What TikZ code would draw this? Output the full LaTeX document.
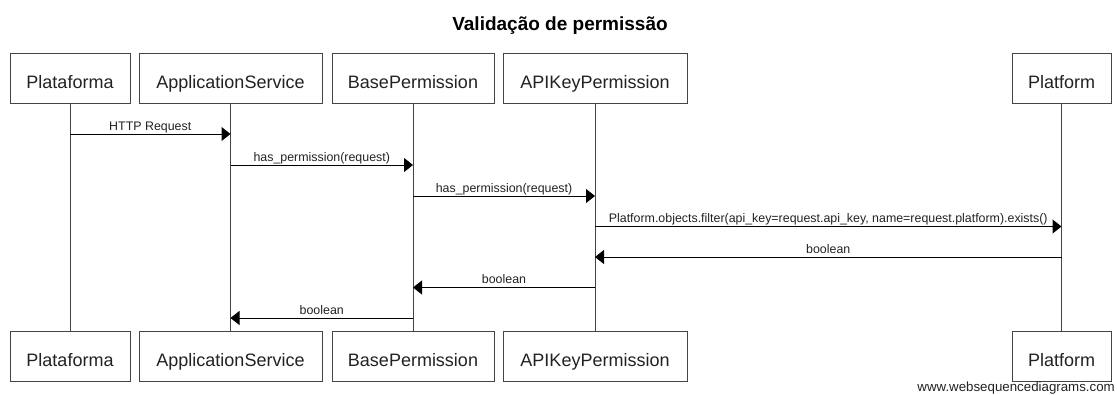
\documentclass[tikz,border=0pt]{standalone}
\usepackage{fontspec}
\setmainfont{Liberation Sans}
\usetikzlibrary{arrows.meta}

\definecolor{inkgrey}{HTML}{222222}
\definecolor{linegrey}{HTML}{444444}

\tikzset{
  actor/.style={draw=linegrey, line width=1pt, fill=white, inner sep=0pt,
    minimum height=50pt, text=inkgrey, font=\fontsize{18}{20}\selectfont,
    text height=20pt, text depth=0pt},
  lifeline/.style={draw=linegrey, line width=1pt},
  msg/.style={draw=black, line width=1pt, -{Triangle[length=9pt,width=14pt]}},
  lbl/.style={anchor=base, inner sep=0pt, yshift=4pt, text=inkgrey,
    font=\fontsize{12.4}{14}\selectfont},
}

\begin{document}
\begin{tikzpicture}[x=1pt, y=-1pt]
  \useasboundingbox (0,0) rectangle (1117,394);

  % title
  \node[anchor=base, inner sep=0pt, font=\fontsize{19}{22}\selectfont\bfseries]
    (title) at (560,30) {Validação de permissão};

  % participants, top row
  \node[actor, minimum width=120pt] (t1) at (70,78)     {Plataforma};
  \node[actor, minimum width=183pt] (t2) at (230.5,78)  {ApplicationService};
  \node[actor, minimum width=162pt] (t3) at (413,78)    {BasePermission};
  \node[actor, minimum width=184pt] (t4) at (595,78)    {APIKeyPermission};
  \node[actor, minimum width=99pt]  (t5) at (1061.5,78) {Platform};

  % participants, bottom row
  \node[actor, minimum width=120pt] (b1) at (70,356)     {Plataforma};
  \node[actor, minimum width=183pt] (b2) at (230.5,356)  {ApplicationService};
  \node[actor, minimum width=162pt] (b3) at (413,356)    {BasePermission};
  \node[actor, minimum width=184pt] (b4) at (595,356)    {APIKeyPermission};
  \node[actor, minimum width=99pt]  (b5) at (1061.5,356) {Platform};

  % lifelines
  \foreach \i in {1,...,5} {
    \draw[lifeline] (t\i.south) -- (b\i.north);
  }

  % messages
  \draw[msg] (t1 |- 0,134) -- (t2 |- 0,134)
    node[lbl, midway] {HTTP Request};
  \draw[msg] (t2 |- 0,165) -- (t3 |- 0,165)
    node[lbl, midway] {has\_permission(request)};
  \draw[msg] (t3 |- 0,196) -- (t4 |- 0,196)
    node[lbl, midway] {has\_permission(request)};
  \draw[msg] (t4 |- 0,226.5) -- (t5 |- 0,226.5)
    node[lbl, midway] {Platform.objects.filter(api\_key=request.api\_key, name=request.platform).exists()};
  \draw[msg] (t5 |- 0,257) -- (t4 |- 0,257)
    node[lbl, midway] {boolean};
  \draw[msg] (t4 |- 0,287.5) -- (t3 |- 0,287.5)
    node[lbl, midway] {boolean};
  \draw[msg] (t3 |- 0,318) -- (t2 |- 0,318)
    node[lbl, midway] {boolean};

  % footer
  \node[anchor=base east, inner sep=0pt, text=inkgrey,
    font=\fontsize{13.3}{15}\selectfont] (credit) at (1115,391)
    {www.websequencediagrams.com};
\end{tikzpicture}
\end{document}
